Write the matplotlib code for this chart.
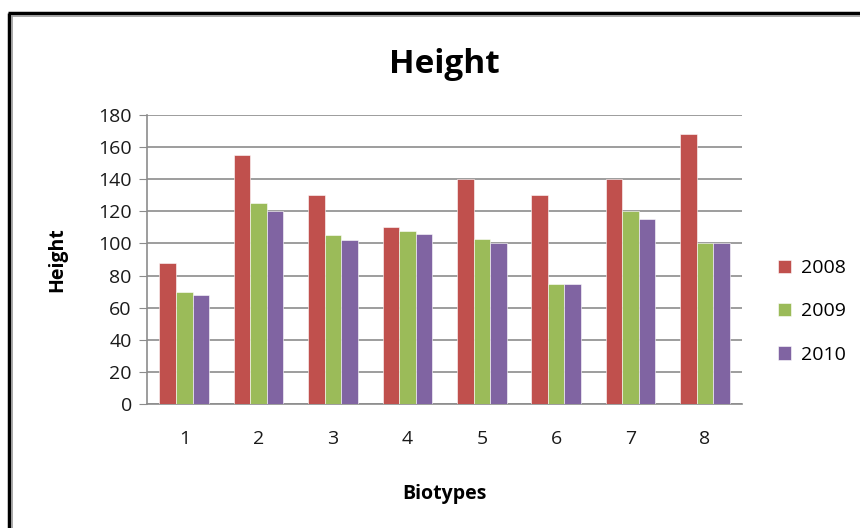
import numpy as np
from matplotlib import pyplot as plt
from matplotlib.lines import Line2D

biotypes = ["1", "2", "3", "4", "5", "6", "7", "8"]
years = ["2008", "2009", "2010"]
h2008 = [88, 155, 130, 110, 140, 130, 140, 168]
h2009 = [70, 125, 105, 108, 103, 75, 120, 100]
h2010 = [68, 120, 102, 106, 100, 75, 115, 100]
yticks = [0, 20, 40, 60, 80, 100, 120, 140, 160, 180]

colors = ["#C0504D", "#9BBB59", "#8064A2"]
plt.rcParams["font.family"] = ["Open Sans", "DejaVu Sans"]

fig = plt.figure(figsize=(8.6, 5.28), dpi=100)
ax = fig.add_axes([0.171, 0.235, 0.692, 0.547])

x = np.arange(1, len(biotypes) + 1)
w = 0.222
for i, (vals, c, lab) in enumerate(zip([h2008, h2009, h2010], colors, years)):
    ax.bar(x + (i - 1) * w, vals, width=w, color=c, label=lab, zorder=3,
           edgecolor="white", linewidth=0.4)

ax.set_xlim(0.5, 8.5)
ax.set_ylim(0, 180)
ax.set_yticks(yticks)
ax.set_xticks(x)
ax.set_xticklabels(biotypes)
ax.yaxis.grid(True, color="#8c8c8c", linewidth=1.2, zorder=0)
for s in ["top", "right"]:
    ax.spines[s].set_visible(False)
for s in ["left", "bottom"]:
    ax.spines[s].set_color("#8c8c8c")
    ax.spines[s].set_linewidth(1.2)
ax.tick_params(axis="y", length=6, color="#8c8c8c", labelsize=14, pad=5,
               labelcolor="#1a1a1a")
ax.tick_params(axis="x", length=0, labelsize=14, pad=19, labelcolor="#1a1a1a")

ax.set_title("Height", fontsize=24, fontweight="bold", pad=30)
ax.set_ylabel("Height", fontsize=14, fontweight="bold", labelpad=22)
ax.set_xlabel("Biotypes", fontsize=14, fontweight="bold", labelpad=26)

ax.legend(loc="center left", bbox_to_anchor=(1.03, 0.32), frameon=False,
          fontsize=14, handlelength=0.7, handleheight=0.7,
          labelspacing=1.3, handletextpad=0.5)

# outer chart border
fig.add_artist(Line2D([0.0105, 0.0105], [0, 0.975], color="black", linewidth=2.5,
                      transform=fig.transFigure, solid_capstyle="butt"))
fig.add_artist(Line2D([0.009, 1], [0.975, 0.975], color="black", linewidth=2.5,
                      transform=fig.transFigure, solid_capstyle="butt"))
fig.add_artist(Line2D([0.0135, 0.0135], [0, 0.970], color="#999999", linewidth=1.2,
                      transform=fig.transFigure))
fig.add_artist(Line2D([0.0135, 1], [0.970, 0.970], color="#999999", linewidth=1.2,
                      transform=fig.transFigure))

fig.savefig("out.png", dpi=100)
